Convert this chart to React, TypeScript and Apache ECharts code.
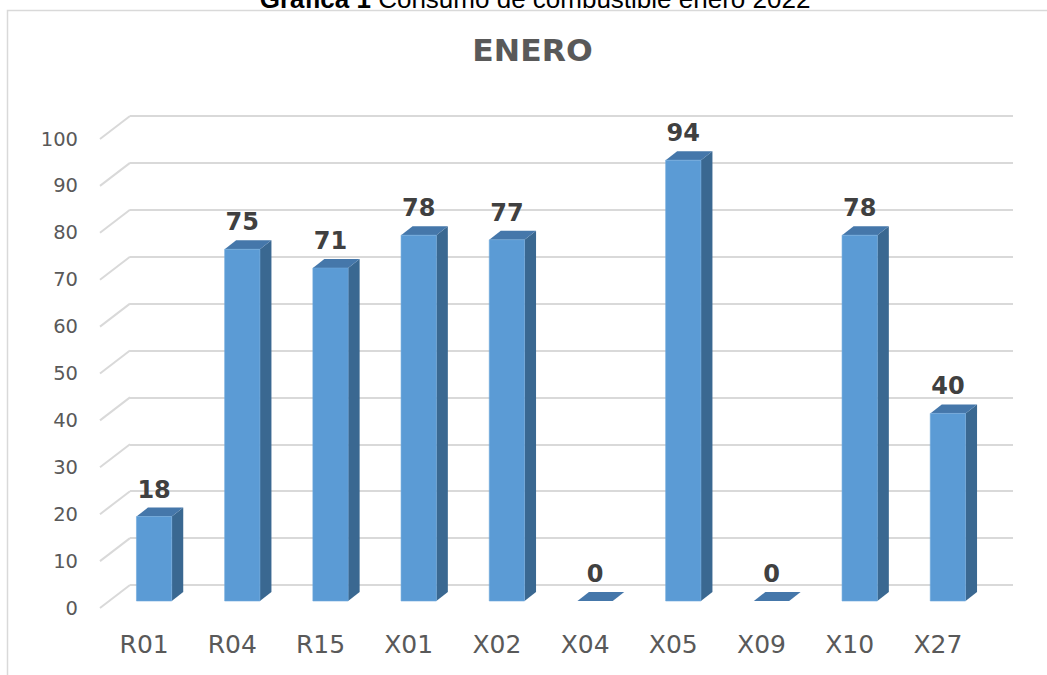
import React, { useEffect, useRef } from "react";
import * as echarts from "echarts";

const categories = ["R01", "R04", "R15", "X01", "X02", "X04", "X05", "X09", "X10", "X27"];
const values = [18, 75, 71, 78, 77, 0, 94, 0, 78, 40];
const yTicks = [0, 10, 20, 30, 40, 50, 60, 70, 80, 90, 100];
const chartTitle = "ENERO";
const headerBold = "Gráfica 1";
const headerRest = " Consumo de combustible enero 2022";

const DX = 11.5; // depth offset x
const DY = -9; // depth offset y
const FRONT = "#5B9BD5";
const SIDE = "#3A6891";
const TOP = "#4577AA";

export default function App() {
  const ref = useRef<HTMLDivElement>(null);
  useEffect(() => {
    if (!ref.current) return;
    const chart = echarts.init(ref.current, undefined, { renderer: "svg" });
    const option: any = {
      animation: false,
      backgroundColor: "#ffffff",
      graphic: [
        {
          type: "rect",
          shape: { x: 7.5, y: 10.5, width: 1100, height: 700 },
          style: { fill: "none", stroke: "#d9d9d9", lineWidth: 1.5 },
          z: 0,
        },
        {
          type: "text",
          x: 535,
          y: -1,
          style: {
            text: "{b|" + headerBold + "}" + headerRest,
            rich: { b: { fontWeight: "bold", fontSize: 26, fontFamily: "Liberation Sans", fill: "#000" } },
            fontSize: 26,
            fontFamily: "Liberation Sans",
            fill: "#000",
            textAlign: "center",
            textVerticalAlign: "middle",
          },
        },
        {
          type: "text",
          x: 532.5,
          y: 50,
          scaleX: 1.05,
          style: {
            text: chartTitle,
            fontSize: 30,
            fontWeight: "bold",
            fontFamily: "DejaVu Sans",
            fill: "#595959",
            textAlign: "center",
            textVerticalAlign: "middle",
          },
        },
      ],
      grid: [
        // bars front plane
        { left: 110, top: 132, width: 882, height: 469 },
        // label plane
        { left: 100, top: 139, width: 30, height: 469 },
        // back wall
        { left: 130, top: 116, width: 883, height: 469 },
      ],
      xAxis: [
        {
          gridIndex: 0,
          type: "category",
          data: categories,
          axisLine: { show: false },
          axisTick: { show: false },
          axisLabel: {
            margin: 31,
            padding: [0, 20, 0, 0],
            fontSize: 25,
            fontFamily: "DejaVu Sans",
            color: "#595959",
          },
        },
        { gridIndex: 1, type: "value", min: 0, max: 1, show: false },
        { gridIndex: 2, type: "value", min: 0, max: 1, show: false },
      ],
      yAxis: [
        { gridIndex: 0, type: "value", min: 0, max: 100, show: false },
        {
          gridIndex: 1,
          type: "value",
          min: 0,
          max: 100,
          interval: 10,
          axisLine: { show: false },
          axisTick: { show: false },
          splitLine: { show: false },
          axisLabel: { margin: 22, fontSize: 19.5, fontFamily: "DejaVu Sans", color: "#595959" },
        },
        {
          gridIndex: 2,
          type: "value",
          min: 0,
          max: 100,
          interval: 10,
          axisLine: { show: false },
          axisTick: { show: false },
          axisLabel: { show: false },
          splitLine: { show: true, lineStyle: { color: "#d9d9d9", width: 2 } },
        },
      ],
      series: [
        {
          type: "custom",
          xAxisIndex: 1,
          yAxisIndex: 1,
          data: yTicks.map((v) => [0, v]),
          silent: true,
          renderItem: (_p: any, api: any) => {
            const a = api.coord([0, api.value(1)]);
            const b = api.coord([1, api.value(1)]);
            const dy = api.coord([0, 0])[1] - 585;
            return {
              type: "line",
              shape: { x1: a[0], y1: a[1], x2: b[0], y2: a[1] - dy },
              style: { stroke: "#d9d9d9", lineWidth: 2 },
            };
          },
        },
        {
          type: "custom",
          xAxisIndex: 0,
          yAxisIndex: 0,
          data: values.map((v, i) => [i, v]),
          renderItem: (_p: any, api: any) => {
            const i = api.value(0);
            const v = api.value(1);
            const base = api.coord([i, 0]);
            const top = api.coord([i, v]);
            const bw = api.size([1, 0])[0] * 0.4;
            const x0 = base[0] - bw / 2;
            const x1 = x0 + bw;
            const yt = top[1];
            const yb = base[1];
            const children: any[] = [];
            if (yb - yt > 0.5) {
              children.push({
                type: "polygon",
                shape: { points: [[x1, yt], [x1 + DX, yt + DY], [x1 + DX, yb + DY], [x1, yb]] },
                style: { fill: SIDE },
              });
            }
            children.push({
              type: "polygon",
              shape: { points: [[x0, yt], [x1, yt], [x1 + DX, yt + DY], [x0 + DX, yt + DY]] },
              style: { fill: TOP },
            });
            if (yb - yt > 0.5) {
              children.push({
                type: "rect",
                shape: { x: x0, y: yt, width: bw, height: yb - yt },
                style: { fill: FRONT, stroke: "#6FA8DC", lineWidth: 0.6 },
              });
            }
            children.push({
              type: "text",
              x: (x0 + x1) / 2,
              y: yt - 27,
              style: {
                text: String(v),
                fontSize: 24,
                fontWeight: "bold",
                fontFamily: "DejaVu Sans",
                fill: "#404040",
                textAlign: "center",
                textVerticalAlign: "middle",
              },
            });
            return { type: "group", children };
          },
        },
      ],
    };
    chart.setOption(option);
    return () => chart.dispose();
  }, []);
  return (
    <div
      ref={ref}
      style={{ position: "fixed", left: 0, top: 0, width: 1047, height: 675 }}
    />
  );
}
